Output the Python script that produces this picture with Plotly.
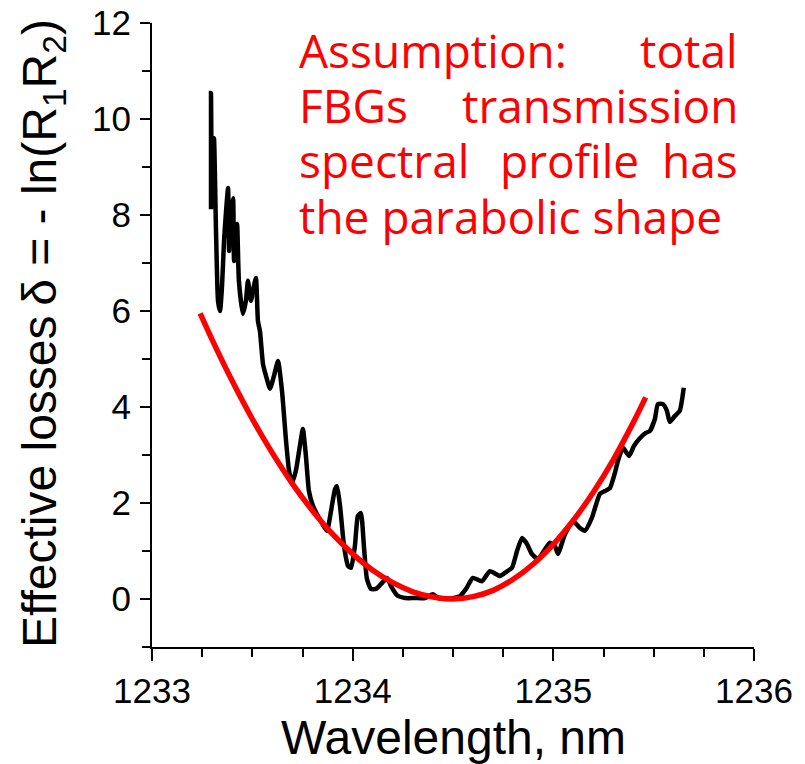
import plotly.graph_objects as go

# Measured effective losses (black trace)
wl_meas = [1233.294, 1233.294, 1233.299, 1233.309, 1233.319, 1233.329, 1233.339, 1233.349, 1233.359,
           1233.369, 1233.379, 1233.384, 1233.389, 1233.404, 1233.409, 1233.424, 1233.433, 1233.453,
           1233.468, 1233.478, 1233.493, 1233.508, 1233.518, 1233.528, 1233.538, 1233.553, 1233.568,
           1233.588, 1233.608, 1233.628, 1233.648, 1233.668, 1233.683, 1233.698, 1233.717, 1233.737,
           1233.752, 1233.767, 1233.782, 1233.802, 1233.822, 1233.847, 1233.872, 1233.892, 1233.912,
           1233.922, 1233.937, 1233.957, 1233.977, 1233.992, 1234.011, 1234.026, 1234.041, 1234.056,
           1234.071, 1234.091, 1234.116, 1234.141, 1234.171, 1234.191, 1234.221, 1234.261, 1234.310,
           1234.360, 1234.400, 1234.425, 1234.475, 1234.535, 1234.565, 1234.599, 1234.644, 1234.684,
           1234.734, 1234.764, 1234.794, 1234.819, 1234.844, 1234.868, 1234.893, 1234.923, 1234.953,
           1234.983, 1235.008, 1235.023, 1235.058, 1235.098, 1235.133, 1235.157, 1235.192, 1235.232,
           1235.257, 1235.282, 1235.307, 1235.322, 1235.347, 1235.377, 1235.402, 1235.431, 1235.461,
           1235.481, 1235.506, 1235.521, 1235.546, 1235.566, 1235.580, 1235.605, 1235.630, 1235.650]
loss_meas = [8.12, 10.54, 8.29, 9.60, 7.67, 6.21, 6.00, 6.52, 7.46,
             8.08, 8.56, 7.25, 7.88, 8.35, 7.04, 7.81, 6.63, 5.94,
             6.21, 6.63, 6.21, 6.52, 6.69, 5.79, 5.58, 4.90, 4.65,
             4.38, 4.65, 4.96, 4.33, 3.29, 2.67, 2.42, 2.67, 3.19,
             3.54, 2.98, 2.25, 1.94, 1.77, 1.58, 1.42, 1.83, 2.29,
             2.35, 1.94, 1.10, 0.69, 0.65, 1.10, 1.73, 1.79, 1.10,
             0.42, 0.21, 0.21, 0.31, 0.44, 0.27, 0.08, 0.02, 0.02,
             0.02, 0.10, 0.02, 0.00, 0.06, 0.21, 0.44, 0.37, 0.58,
             0.48, 0.56, 0.65, 1.00, 1.27, 1.15, 0.94, 0.83, 1.00,
             1.17, 1.10, 0.94, 1.35, 1.62, 1.48, 1.42, 1.69, 2.19,
             2.25, 2.31, 2.63, 2.88, 3.15, 2.98, 3.19, 3.35, 3.46,
             3.50, 3.75, 4.06, 4.06, 3.92, 3.69, 3.81, 3.92, 4.40]

# Parabolic approximation (red curve)
wl_fit = [1233.24, 1233.3, 1233.4, 1233.5, 1233.6, 1233.7, 1233.8, 1233.9, 1234.0, 1234.1, 1234.2,
          1234.3, 1234.4, 1234.5, 1234.6, 1234.7, 1234.8, 1234.9, 1235.0, 1235.1, 1235.2, 1235.3,
          1235.4, 1235.46]
loss_fit = [5.95, 5.40, 4.54, 3.75, 3.04, 2.40, 1.84, 1.35, 0.94, 0.60, 0.34,
            0.15, 0.04, 0.00, 0.05, 0.18, 0.41, 0.73, 1.14, 1.64, 2.23, 2.91,
            3.69, 4.20]

x_range = [1233, 1236]
y_range = [-1, 12]

x_title = "Wavelength, nm"
y_title = "Effective losses\u2009\u03b4 = - ln(R<sub>1</sub>R<sub>2</sub>)"

# Note words (justified text block)
note_words = [
    ("Assumption:", 0.2405, 0.957, "left"),
    ("total", 0.9768, 0.957, "right"),
    ("FBGs", 0.2405, 0.869, "left"),
    ("transmission", 0.9768, 0.869, "right"),
    ("spectral", 0.2405, 0.780, "left"),
    ("profile", 0.693, 0.780, "center"),
    ("has", 0.9768, 0.780, "right"),
    ("the parabolic shape", 0.2405, 0.690, "left"),
]

FONT = "Liberation Sans, Arial, sans-serif"
NOTE_FONT = "Comic Sans MS, Open Sans, sans-serif"

fig = go.Figure()
fig.add_trace(go.Scatter(x=wl_meas, y=loss_meas, mode="lines",
                         line=dict(color="black", width=4.5, shape="spline", smoothing=0.5),
                         showlegend=False))
fig.add_trace(go.Scatter(x=wl_fit, y=loss_fit, mode="lines",
                         line=dict(color="#ff0000", width=5.5, shape="spline", smoothing=1),
                         showlegend=False))

axis_common = dict(showgrid=False, zeroline=False, showline=True, linecolor="black",
                   linewidth=2, ticks="outside", tickcolor="black", tickwidth=2,
                   automargin=False,
                   tickfont=dict(family=FONT, size=35, color="black"))

fig.update_xaxes(range=x_range, dtick=1, tick0=1233, ticklen=12, ticklabelstandoff=0,
                 minor=dict(dtick=0.25, ticks="outside", ticklen=8, tickwidth=2, tickcolor="black"),
                 **axis_common)
fig.update_yaxes(range=y_range, dtick=2, tick0=0, ticklen=10, ticklabelstandoff=2,
                 minor=dict(dtick=1, tick0=0, ticks="outside", ticklen=8, tickwidth=2, tickcolor="black"),
                 **axis_common)

annotations = [
    dict(text=x_title, xref="paper", yref="paper", x=0.5, y=-0.1, xanchor="center",
         yanchor="top", showarrow=False, font=dict(family=FONT, size=48, color="black")),
    dict(text=y_title, xref="paper", yref="paper", x=-0.181, y=0.5016, xanchor="center",
         yanchor="middle", textangle=-90, showarrow=False,
         font=dict(family=FONT, size=48, color="black")),
]
for w, xx, yy, anc in note_words:
    annotations.append(dict(text=w, xref="paper", yref="paper", x=xx, y=yy, xanchor=anc,
                            yanchor="middle", showarrow=False,
                            font=dict(family=NOTE_FONT, size=46, color="#ff0000")))

fig.update_layout(width=805, height=764, autosize=False,
                  margin=dict(l=152, r=51, t=23, b=117),
                  paper_bgcolor="white", plot_bgcolor="white",
                  annotations=annotations)

fig.write_html("out.html", config={"displayModeBar": False},
               post_script="document.body.style.margin='0';document.body.style.overflow='hidden';")
